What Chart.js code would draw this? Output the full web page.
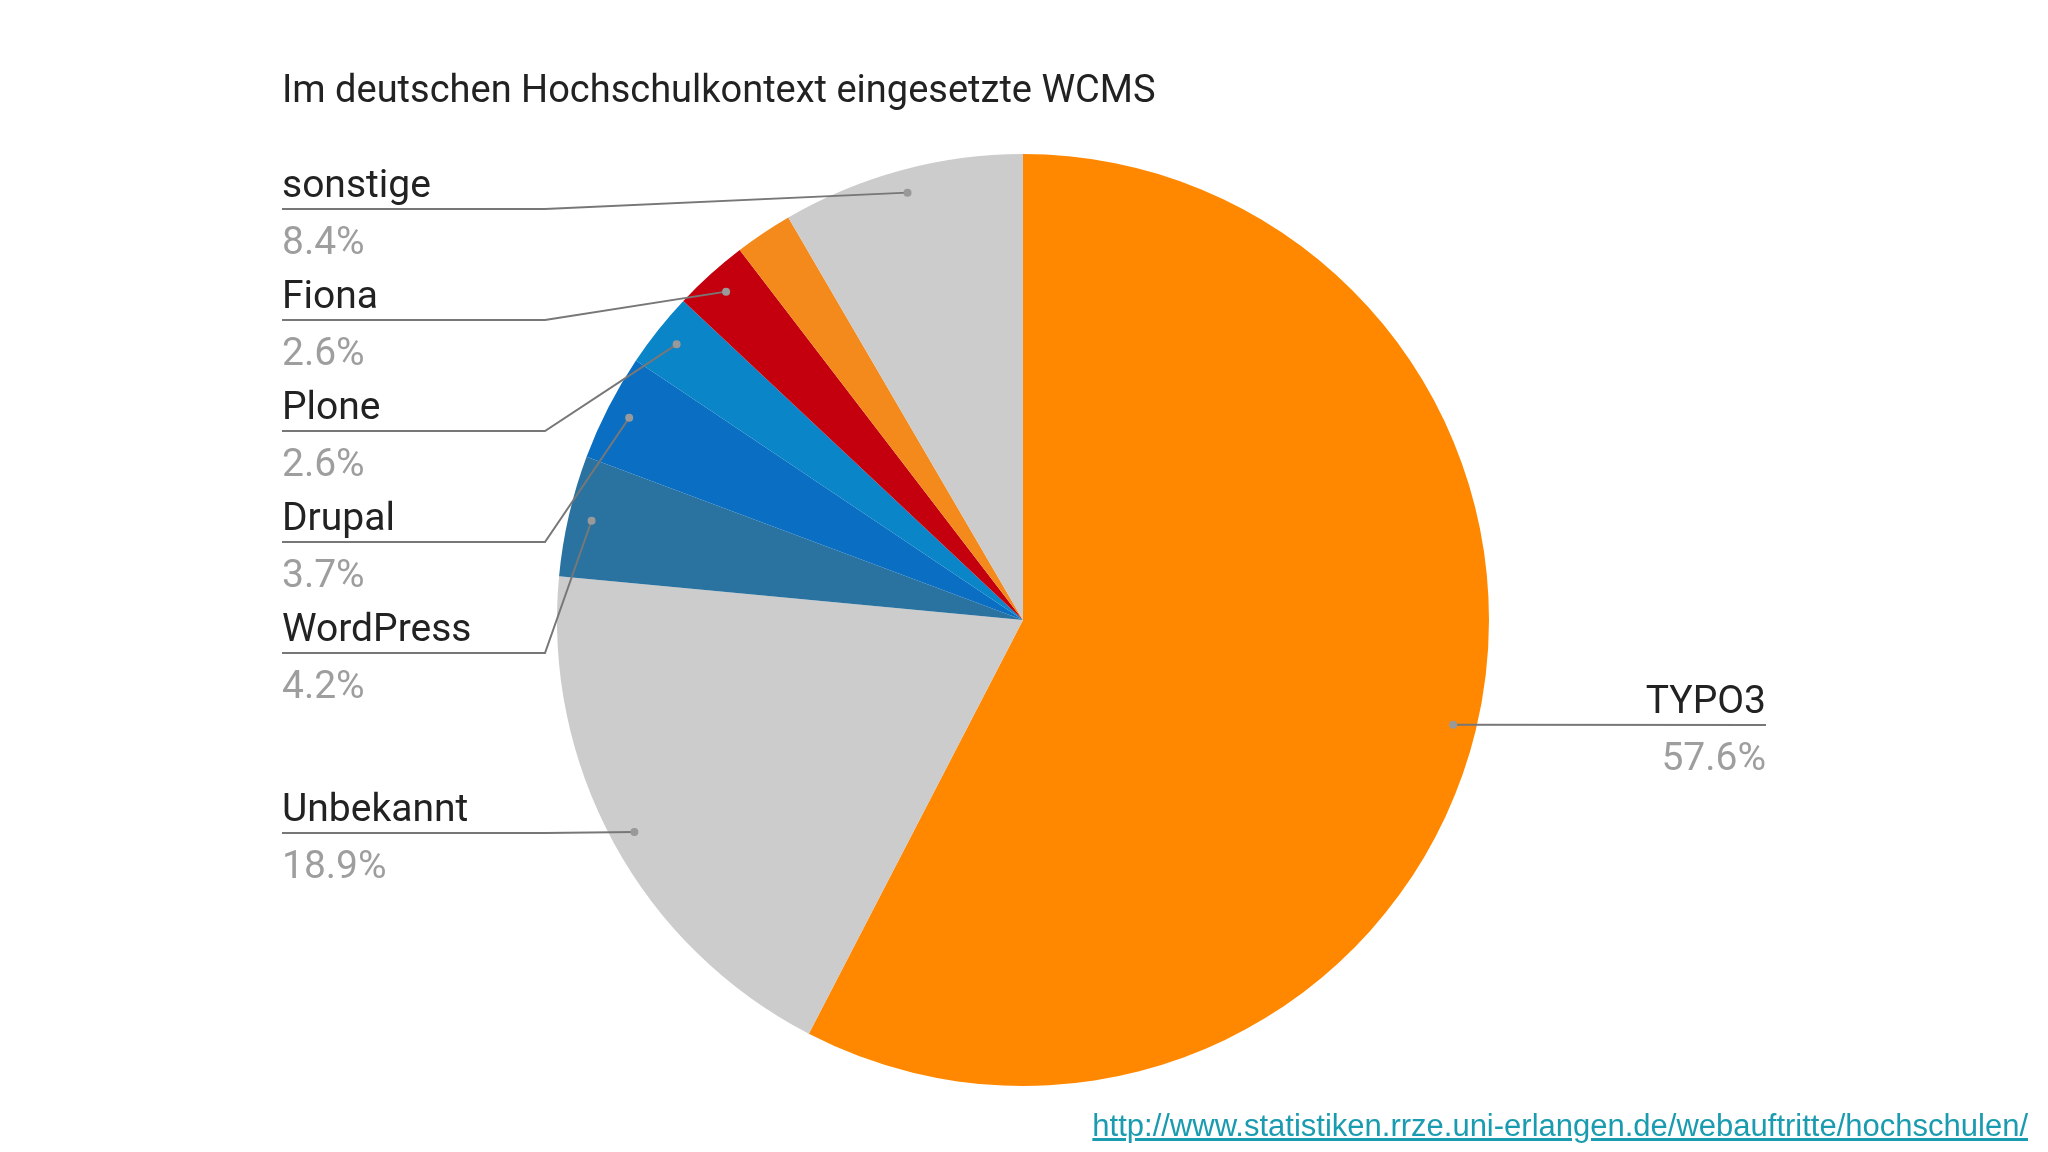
<!DOCTYPE html>
<html>
<head>
<meta charset="utf-8">
<script src="https://cdn.jsdelivr.net/npm/chart.js@4/dist/chart.umd.min.js"></script>
<style>
  body { margin: 0; background: #fff; width: 2048px; height: 1152px; overflow: hidden; position: relative; font-family: Roboto, sans-serif; }
  #wrap { position: absolute; left: 0; top: 0; width: 2048px; height: 1152px; }
  a { position: absolute; right: 20px; top: 1108px; font-size: 31px; color: #1a9bb0; font-family: Arial, "Liberation Sans", sans-serif; }
</style>
</head>
<body>
<div id="wrap"><canvas id="myChart"></canvas></div>
<a href="#">http://www.statistiken.rrze.uni-erlangen.de/webauftritte/hochschulen/</a>
<script>
// daten
const labels = ['TYPO3', 'Unbekannt', 'WordPress', 'Drupal', 'Plone', 'Fiona', '', 'sonstige'];
const values = [57.6, 18.9, 4.2, 3.7, 2.6, 2.6, 2.0, 8.4];
const pctLabels = ['57.6%', '18.9%', '4.2%', '3.7%', '2.6%', '2.6%', '', '8.4%'];
const colors = ['#ff8800', '#cccccc', '#2a73a0', '#0a6fc2', '#0a85c8', '#c4000e', '#f48a1c', '#cccccc'];

// y der textzeile (linie) fuer jede beschriftung
const lineY = [725, 833, 653, 542, 431, 320, null, 209];

const labelPlugin = {
  id: 'labelPlugin',
  afterDraw(chart) {
    const ctx = chart.ctx;
    ctx.save();
    ctx.fillStyle = '#222';
    ctx.font = '38px Roboto';
    ctx.textBaseline = 'alphabetic';
    ctx.textAlign = 'left';
    ctx.fillText('Im deutschen Hochschulkontext eingesetzte WCMS', 282, 102);

    const arcs = chart.getDatasetMeta(0).data;
    arcs.forEach((arc, i) => {
      if (lineY[i] == null) return;
      const p = arc.getProps(['x', 'y', 'startAngle', 'endAngle', 'outerRadius']);
      const mid = (p.startAngle + p.endAngle) / 2;
      const px = p.x + Math.cos(mid) * p.outerRadius * 0.95;
      const py = p.y + Math.sin(mid) * p.outerRadius * 0.95;
      const y = lineY[i];
      ctx.strokeStyle = '#777';
      ctx.lineWidth = 2;
      ctx.beginPath();
      if (i === 0) {
        ctx.moveTo(px, py);
        ctx.lineTo(1766, y);
      } else {
        ctx.moveTo(282, y);
        ctx.lineTo(545, y);
        ctx.lineTo(px, py);
      }
      ctx.stroke();
      ctx.fillStyle = '#999';
      ctx.beginPath();
      ctx.arc(px, py, 4, 0, Math.PI * 2);
      ctx.fill();

      ctx.font = '39px Roboto';
      ctx.textAlign = i === 0 ? 'right' : 'left';
      const tx = i === 0 ? 1766 : 282;
      ctx.fillStyle = '#222';
      ctx.fillText(labels[i], tx, y - 12);
      ctx.fillStyle = '#9e9e9e';
      ctx.fillText(pctLabels[i], tx, y + 45);
    });
    ctx.restore();
  }
};

new Chart(document.getElementById('myChart'), {
  type: 'pie',
  data: {
    labels: labels,
    datasets: [{ data: values, backgroundColor: colors, borderWidth: 0, hoverOffset: 0 }]
  },
  options: {
    responsive: true,
    maintainAspectRatio: false,
    animation: false,
    layout: { padding: { left: 557, right: 559, top: 154, bottom: 66 } },
    plugins: { legend: { display: false }, tooltip: { enabled: false } }
  },
  plugins: [labelPlugin]
});
</script>
</body>
</html>
